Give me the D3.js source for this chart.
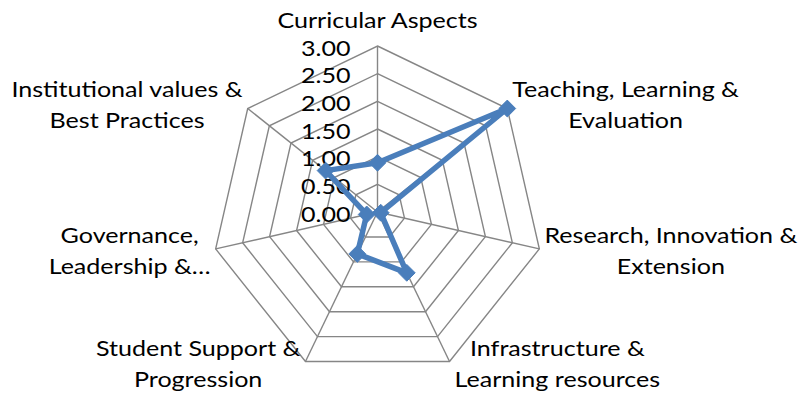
<!DOCTYPE html>
<html>
<head>
<meta charset="utf-8">
<script src="https://cdn.jsdelivr.net/npm/d3@7"></script>
<style>
  html, body { margin: 0; padding: 0; background: #fff; }
  svg { display: block; }
  text { font-family: Lato, "Open Sans", sans-serif; fill: #000; }
</style>
</head>
<body>
<div id="chart"></div>
<script>
// Radar chart data
const categories = [
    ['Curricular Aspects'],
    ['Teaching, Learning &', 'Evaluation'],
    ['Research, Innovation &', 'Extension'],
    ['Infrastructure &', 'Learning resources'],
    ['Student Support &', 'Progression'],
    ['Governance,', 'Leadership &\u2026'],
    ['Institutional values &', 'Best Practices']
];
const values = [0.89, 3.00, 0.06, 1.22, 0.84, 0.20, 1.20];
const ticks = [0, 0.5, 1, 1.5, 2, 2.5, 3];
const tickLabels = ['0.00', '0.50', '1.00', '1.50', '2.00', '2.50', '3.00'];

const width = 803, height = 403;
const cx = 377.5, cy = 212, R = 166;
const n = categories.length;
const fontSize = 22, stretch = 1.14; // the original text is a wide Calibri-like face

const svg = d3.select('#chart').append('svg')
    .attr('width', width)
    .attr('height', height);

const r = d3.scaleLinear().domain([0, 3]).range([0, R]);
const angle = d3.scaleLinear().domain([0, n]).range([0, 2 * Math.PI]);

function pt(i, v) {
    const a = angle(i);
    return [cx + r(v) * Math.sin(a), cy - r(v) * Math.cos(a)];
}

function place(t, x, y) {
    t.attr('transform', `translate(${x},${y}) scale(${stretch},1)`);
}

// Grid rings
const grid = svg.append('g');
ticks.slice(1).forEach(t => {
    grid.append('polygon')
        .attr('points', d3.range(n).map(i => pt(i, t).join(',')).join(' '))
        .attr('fill', 'none')
        .attr('stroke', '#868686')
        .attr('stroke-width', 1.4);
});

// Spokes
grid.selectAll('line')
    .data(d3.range(n))
    .join('line')
    .attr('x1', cx).attr('y1', cy)
    .attr('x2', i => pt(i, 3)[0])
    .attr('y2', i => pt(i, 3)[1])
    .attr('stroke', '#868686')
    .attr('stroke-width', 1.4);

// Tick labels
svg.append('g').selectAll('text')
    .data(ticks)
    .join('text')
    .attr('dy', '0.35em')
    .attr('text-anchor', 'end')
    .attr('font-size', fontSize)
    .text((t, i) => tickLabels[i])
    .each(function(t) { place(d3.select(this), cx - 27, cy - r(t) + 2); });

// Category labels
const lineH = 31;
const labels = svg.append('g');
categories.forEach((lines, i) => {
    const a = angle(i);
    const [vx, vy] = pt(i, 3);
    const g = labels.append('g');
    const texts = lines.map(s => g.append('text')
        .attr('font-size', fontSize)
        .attr('text-anchor', 'middle')
        .attr('dy', '0.35em')
        .text(s));
    const w = stretch * d3.max(texts, t => t.node().getComputedTextLength());
    const s = Math.sin(a);
    let bx, by;
    if (Math.abs(s) < 0.1) {
        bx = vx;
        by = vy - 26 - (lines.length - 1) * lineH / 2;
    } else if (s > 0) {
        bx = vx + 5 + w / 2;
        by = vy + (Math.cos(a) > 0 ? -4 : 2);
    } else {
        bx = vx - 5 - w / 2;
        by = vy + (Math.cos(a) > 0 ? -4 : 2);
    }
    texts.forEach((t, k) => place(t, bx, by + (k - (lines.length - 1) / 2) * lineH));
});

// Series
const color = '#4A7EBB';
const pts = values.map((v, i) => pt(i, v));
svg.append('path')
    .attr('d', d3.line().curve(d3.curveLinearClosed)(pts))
    .attr('fill', 'none')
    .attr('stroke', color)
    .attr('stroke-width', 5.5)
    .attr('stroke-linejoin', 'round');

svg.append('g').selectAll('path')
    .data(pts)
    .join('path')
    .attr('transform', d => `translate(${d[0]},${d[1]})`)
    .attr('d', d3.symbol().type(d3.symbolDiamond2).size(180))
    .attr('fill', color)
    .attr('stroke', color)
    .attr('stroke-width', 1);
</script>
</body>
</html>
